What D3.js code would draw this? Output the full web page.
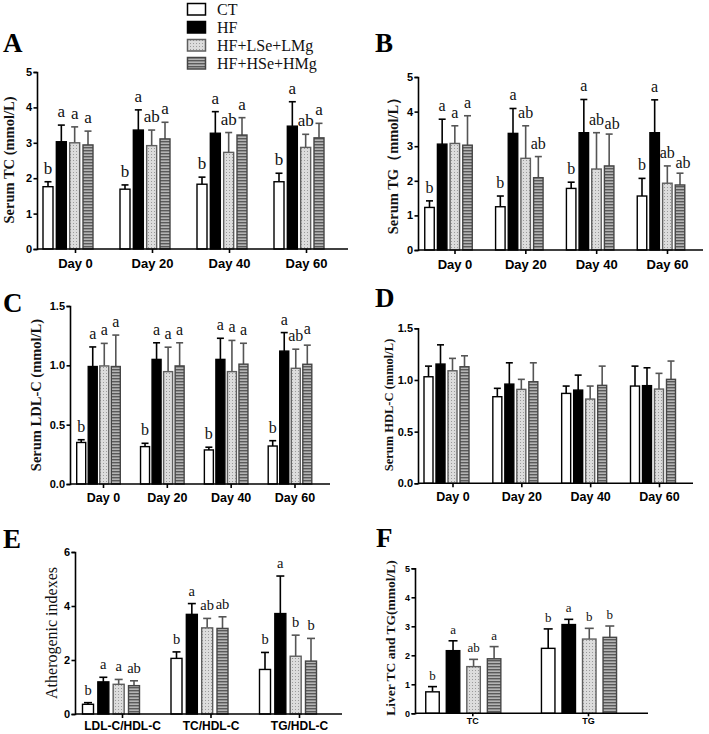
<!DOCTYPE html>
<html><head><meta charset="utf-8">
<script src="https://cdn.jsdelivr.net/npm/d3@7"></script>
<style>body{margin:0;background:#fff}</style>
</head><body>
<script>
// ---------- DATA ----------
const series = ["CT","HF","HF+LSe+LMg","HF+HSe+HMg"];
const days = ["Day 0","Day 20","Day 40","Day 60"];

// Panel A: Serum TC (rows = groups, cols = series)
const tcMean = [[1.76,3.03,3.00,2.94],[1.69,3.36,2.92,3.11],[1.83,3.27,2.73,3.22],[1.90,3.47,2.87,3.14]];
const tcErr  = [[0.14,0.47,0.45,0.39],[0.12,0.57,0.44,0.47],[0.20,0.61,0.56,0.49],[0.24,0.69,0.37,0.41]];
const tcSig  = [["b","a","a","a"],["b","a","ab","a"],["b","a","ab","a"],["b","a","ab","a"]];

// Panel B: Serum TG
const tgMean = [[1.23,3.06,3.08,3.03],[1.25,3.37,2.65,2.09],[1.78,3.39,2.34,2.43],[1.56,3.39,1.93,1.88]];
const tgErr  = [[0.19,0.72,0.51,0.85],[0.31,0.72,0.94,0.61],[0.18,0.96,1.05,0.92],[0.51,0.95,0.50,0.34]];
const tgSig  = [["b","a","a","a"],["b","a","ab","ab"],["b","a","ab","ab"],["b","a","ab","ab"]];

// Panel C: Serum LDL-C
const ldlMean = [[0.35,0.99,0.995,0.99],[0.315,1.05,0.947,0.995],[0.287,1.05,0.947,1.01],[0.32,1.12,0.975,1.009]];
const ldlErr  = [[0.023,0.165,0.19,0.265],[0.028,0.14,0.206,0.195],[0.023,0.178,0.263,0.176],[0.045,0.156,0.161,0.161]];
const ldlSig  = [["b","a","a","a"],["b","a","a","a"],["b","a","a","a"],["b","a","ab","a"]];

// Panel D: Serum HDL-C
const hdlMean = [[1.031,1.154,1.089,1.128],[0.838,0.96,0.909,0.983],[0.87,0.902,0.815,0.948],[0.941,0.945,0.912,1.006]];
const hdlErr  = [[0.103,0.186,0.12,0.106],[0.081,0.206,0.097,0.183],[0.071,0.145,0.126,0.186],[0.193,0.173,0.152,0.177]];

// Panel E: Atherogenic indexes
const aiCats = ["LDL-C/HDL-C","TC/HDL-C","TG/HDL-C"];
const aiMean = [[0.36,1.19,1.10,1.05],[2.06,3.69,3.19,3.17],[1.65,3.72,2.14,1.96]];
const aiErr  = [[0.06,0.17,0.18,0.18],[0.24,0.40,0.35,0.43],[0.63,1.39,0.78,0.84]];
const aiSig  = [["b","a","a","ab"],["b","a","ab","ab"],["b","a","b","b"]];

// Panel F: Liver TC and TG
const liverCats = ["TC","TG"];
const liverMean = [[0.74,2.16,1.61,1.88],[2.24,3.06,2.56,2.62]];
const liverErr  = [[0.18,0.34,0.25,0.42],[0.67,0.18,0.37,0.39]];
const liverSig  = [["b","a","ab","a"],["b","a","b","b"]];

const ticks05 = [0,1,2,3,4,5];
const ticks15 = [0,0.5,1.0,1.5];
const ticks6 = [0,2,4,6];

// ---------- STYLE ----------
const SERIF = "'Liberation Serif','Times New Roman',serif";
const SANS = "'Liberation Sans',Arial,sans-serif";
const svg = d3.select("body").append("svg").attr("width",709).attr("height",734);
const defs = svg.append("defs");
const pd = defs.append("pattern").attr("id","dots").attr("patternUnits","userSpaceOnUse").attr("width",3).attr("height",3);
pd.append("rect").attr("width",3).attr("height",3).attr("fill","#dcdcdc");
pd.append("rect").attr("x",1).attr("y",1).attr("width",1).attr("height",1).attr("fill","#9a9a9a");
const ps = defs.append("pattern").attr("id","stripes").attr("patternUnits","userSpaceOnUse").attr("width",4).attr("height",3);
ps.append("rect").attr("width",4).attr("height",3).attr("fill","#b4b4b4");
ps.append("rect").attr("y",0).attr("width",4).attr("height",1.4).attr("fill","#5a5a5a");

const fills = ["#ffffff","#000000","url(#dots)","url(#stripes)"];
const strokes = ["#000","#000","#5e5e5e","#454545"];
const errCol = ["#000","#000","#555","#555"];

// ---------- LEGEND ----------
const leg = svg.append("g");
series.forEach((s,i)=>{
  leg.append("rect").attr("x",187.5).attr("y",3.5+i*18).attr("width",18).attr("height",11.5)
    .attr("fill",fills[i]).attr("stroke",strokes[i]).attr("stroke-width",1.5);
  leg.append("text").attr("x",217).attr("y",15+i*18).attr("font-family",SERIF).attr("font-size",16)
    .attr("fill","#111").text(s);
});

// ---------- PANELS ----------
function panel(c){
  const g = svg.append("g");
  const y = d3.scaleLinear().domain([0,c.ymax]).range([c.y0,c.yTop]);
  const x = d3.scalePoint().domain(c.cats).range([c.c0,c.c1]);
  const xs = d3.scalePoint().domain(series).range([-c.half,c.half]);

  c.cats.forEach((cat,gi)=>{
    let prev = null;
    series.forEach((s,si)=>{
      const m = c.mean[gi][si], e = c.err[gi][si];
      const xc = x(cat)+xs(s);
      g.append("line").attr("x1",xc).attr("x2",xc).attr("y1",y(m)).attr("y2",y(m+e))
        .attr("stroke",errCol[si]).attr("stroke-width",1.6);
      g.append("line").attr("x1",xc-c.cap).attr("x2",xc+c.cap).attr("y1",y(m+e)).attr("y2",y(m+e))
        .attr("stroke",errCol[si]).attr("stroke-width",1.6);
      g.append("rect").attr("x",xc-c.bw/2).attr("y",y(m)).attr("width",c.bw).attr("height",y(0)-y(m))
        .attr("fill",fills[si]).attr("stroke",strokes[si]).attr("stroke-width",1.4);
      if(c.sig){
        let ty = y(m+e)-c.gap;
        const t = g.append("text").attr("x",xc).attr("y",ty).attr("text-anchor","middle")
          .attr("font-family",SERIF).attr("font-size",c.sigSize).attr("fill","#111").text(c.sig[gi][si]);
        const w = t.node().getComputedTextLength();
        let left = xc - w/2;
        if(prev && Math.abs(prev.y-ty) < c.sigSize*0.8 && left < prev.right + 0.5){
          const dx = prev.right + 0.5 - left;
          left += dx;
          ty += (ty < prev.y) ? -3 : 3;
          t.attr("x", xc+dx).attr("y", ty);
        }
        prev = {right:left+w, y:ty};
      }
    });
  });

  const ya = g.append("g").attr("transform",`translate(${c.ax},0)`)
    .call(d3.axisLeft(y).tickValues(c.yticks).tickFormat(c.fmt).tickSize(3.5).tickPadding(1.5));
  ya.selectAll("path,line").attr("stroke","#000").attr("stroke-width",1.6);
  ya.selectAll("text").attr("font-family",SANS).attr("font-weight","bold").attr("font-size",c.yfs).attr("fill","#000");

  g.append("line").attr("x1",c.ax).attr("x2",c.xEnd).attr("y1",c.y0).attr("y2",c.y0)
    .attr("stroke","#000").attr("stroke-width",1.6);
  const xa = g.append("g").attr("transform",`translate(${c.tickOff},${c.y0})`)
    .call(d3.axisBottom(x).tickSize(c.xts).tickPadding(c.xpad));
  xa.select(".domain").remove();
  xa.selectAll("line").attr("stroke","#000").attr("stroke-width",1.6);
  xa.selectAll("text").attr("font-family",SANS).attr("font-weight","bold").attr("font-size",c.xfs).attr("fill","#000");

  g.append("text").attr("transform",`translate(${c.tx},${c.ty}) rotate(-90)`).attr("text-anchor","middle")
    .attr("font-family",SERIF).attr("font-weight",c.tBold?"bold":"normal").attr("font-size",c.tfs)
    .attr("fill","#111").text(c.title);

  g.append("text").attr("x",c.lx).attr("y",c.ly).attr("font-family",SERIF).attr("font-weight","bold")
    .attr("font-size",27).attr("fill","#000").text(c.letter);
}

panel({letter:"A",lx:3,ly:52,cats:days,mean:tcMean,err:tcErr,sig:tcSig,ymax:5,yticks:ticks05,fmt:d3.format("d"),
  ax:37,xEnd:348,y0:249,yTop:72,c0:68,c1:299,half:20,bw:10,cap:3.5,gap:8,sigSize:17,tickOff:7,
  yfs:11,xfs:13,xts:4,xpad:6,title:"Serum TC (mmol/L)",tx:13.5,ty:160,tfs:14.5,tBold:true});

panel({letter:"B",lx:375,ly:52,cats:days,mean:tgMean,err:tgErr,sig:tgSig,ymax:5,yticks:ticks05,fmt:d3.format("d"),
  ax:418,xEnd:703,y0:250,yTop:77,c0:448.5,c1:661,half:19,bw:9.5,cap:3.5,gap:8,sigSize:16,tickOff:6,
  yfs:11,xfs:13,xts:4,xpad:6,title:"Serum TG（mmol/L）",tx:398,ty:162,tfs:14.5,tBold:true});

panel({letter:"C",lx:3,ly:312,cats:days,mean:ldlMean,err:ldlErr,sig:ldlSig,ymax:1.5,yticks:ticks15,fmt:d3.format(".1f"),
  ax:70,xEnd:330,y0:484,yTop:306,c0:98.5,c1:290,half:17.3,bw:9,cap:3.5,gap:8,sigSize:16,tickOff:4.5,
  yfs:11,xfs:12.5,xts:4,xpad:5,title:"Serum LDL-C (mmol/L)",tx:41,ty:395,tfs:14.5,tBold:true});

panel({letter:"D",lx:375,ly:307,cats:days,mean:hdlMean,err:hdlErr,sig:null,ymax:1.5,yticks:ticks15,fmt:d3.format(".1f"),
  ax:418,xEnd:693,y0:483.3,yTop:328.3,c0:446.5,c1:653,half:18,bw:9,cap:3.5,gap:8,sigSize:16,tickOff:6,
  yfs:11,xfs:12.5,xts:4,xpad:5,title:"Serum HDL-C (mmol/L)",tx:393,ty:405,tfs:12.5,tBold:true});

panel({letter:"E",lx:3,ly:548,cats:aiCats,mean:aiMean,err:aiErr,sig:aiSig,ymax:6,yticks:ticks6,fmt:d3.format("d"),
  ax:75,xEnd:342,y0:714,yTop:552,c0:111,c1:288,half:23,bw:11,cap:4,gap:8,sigSize:14.5,tickOff:11,
  yfs:11,xfs:12,xts:4,xpad:3.5,title:"Atherogenic indexes",tx:57,ty:633,tfs:16,tBold:false});

panel({letter:"F",lx:376,ly:547,cats:liverCats,mean:liverMean,err:liverErr,sig:liverSig,ymax:5,yticks:ticks05,fmt:d3.format("d"),
  ax:415,xEnd:648,y0:713.3,yTop:568.3,c0:463.3,c1:579,half:30.8,bw:13.5,cap:4.5,gap:7,sigSize:13,tickOff:9,
  yfs:9,xfs:9,xts:3,xpad:1,title:"Liver TC and TG(mmol/L)",tx:395,ty:638,tfs:13.5,tBold:true});
</script>
</body></html>
